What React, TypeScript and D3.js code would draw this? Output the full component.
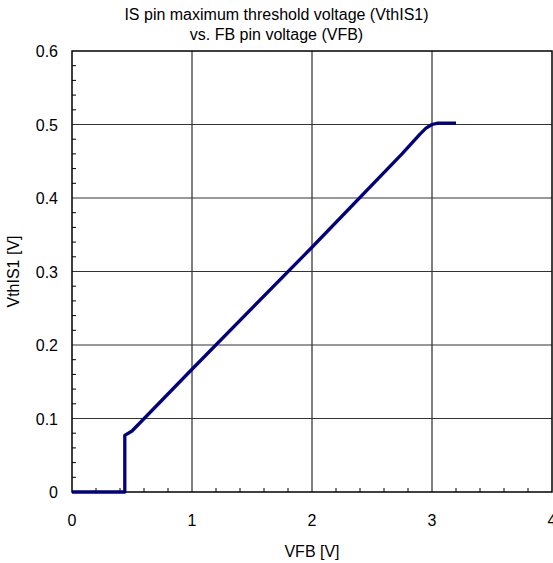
import React from "react";
import * as d3 from "d3";

const vfb = [0, 0.44, 0.44, 0.5, 1, 2, 2.75, 2.9, 2.95, 3.0, 3.05, 3.2];
const vth = [0, 0, 0.077, 0.083, 0.167, 0.333, 0.46, 0.487, 0.495, 0.5, 0.502, 0.502];
const xTicks = [0, 1, 2, 3, 4];
const yTicks = [0, 0.1, 0.2, 0.3, 0.4, 0.5, 0.6];
const titleLines = ["IS pin maximum threshold voltage (VthIS1)", "vs. FB pin voltage (VFB)"];
const xLabel = "VFB [V]";
const yLabel = "VthIS1 [V]";

const W = 553, H = 563;
const L = 72, R = 552, T = 51, B = 492;
const FONT = "'Liberation Sans', Arial, sans-serif";
const FS = 16;

export default function App() {
  const x = d3.scaleLinear().domain([0, 4]).range([L, R]);
  const y = d3.scaleLinear().domain([0, 0.6]).range([B, T]);
  const pts = vfb.map((v, i) => [v, vth[i]] as [number, number]);
  const line = d3.line<[number, number]>().x(d => x(d[0])).y(d => y(d[1]));
  const xMinor = d3.range(0, 4.0001, 0.2).filter(v => Math.abs(v - Math.round(v)) > 1e-6);
  const yMinor = d3.range(0, 0.6001, 0.02).filter(v => Math.abs(v * 10 - Math.round(v * 10)) > 1e-6);
  return (
    <svg width={W} height={H} style={{ position: "absolute", left: 0, top: 0, background: "#fff" }}>
      <rect x={0} y={0} width={W} height={H} fill="#fff" />
      {titleLines.map((t, i) => (
        <text key={i} x={W / 2} y={20 + i * 20} textAnchor="middle" fontFamily={FONT} fontSize={FS} fill="#000">{t}</text>
      ))}
      {xTicks.slice(1, -1).map(v => (
        <line key={"gx" + v} x1={x(v)} x2={x(v)} y1={T} y2={B} stroke="#000" strokeWidth={1} />
      ))}
      {yTicks.slice(1, -1).map(v => (
        <line key={"gy" + v} x1={L} x2={R} y1={y(v)} y2={y(v)} stroke="#333" strokeWidth={1} />
      ))}
      {xMinor.map(v => (
        <line key={"mx" + v} x1={x(v)} x2={x(v)} y1={B} y2={B - 4} stroke="#000" strokeWidth={1} />
      ))}
      {yMinor.map(v => (
        <line key={"my" + v} x1={L} x2={L + 4} y1={y(v)} y2={y(v)} stroke="#000" strokeWidth={1} />
      ))}
      <rect x={L} y={T} width={R - L} height={B - T} fill="none" stroke="#000" strokeWidth={1.5} />
      <path d={line(pts) || ""} fill="none" stroke="#000080" strokeWidth={3.3} strokeLinejoin="round" />
      {yTicks.map(v => (
        <text key={"ty" + v} x={58} y={y(v) + 6} textAnchor="end" fontFamily={FONT} fontSize={FS} fill="#000">{d3.format("")(v)}</text>
      ))}
      {xTicks.map(v => (
        <text key={"tx" + v} x={x(v)} y={526} textAnchor="middle" fontFamily={FONT} fontSize={FS} fill="#000">{v}</text>
      ))}
      <text x={x(2)} y={557} textAnchor="middle" fontFamily={FONT} fontSize={FS} fill="#000">{xLabel}</text>
      <text transform={`translate(19,${(T + B) / 2}) rotate(-90)`} textAnchor="middle" fontFamily={FONT} fontSize={FS} fill="#000">{yLabel}</text>
    </svg>
  );
}
